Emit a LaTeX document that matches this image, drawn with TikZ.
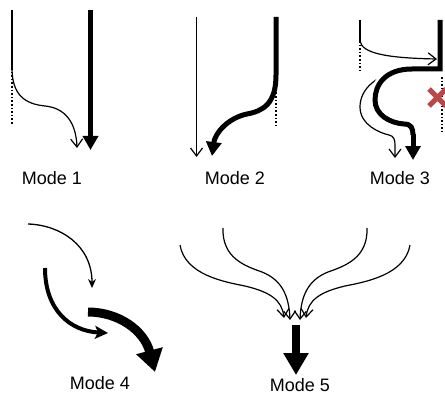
\documentclass[tikz,border=0pt]{standalone}
\usepackage{fontspec}
\setmainfont{Liberation Sans}
\usetikzlibrary{arrows.meta}
\definecolor{crossred}{RGB}{185,72,72}
\tikzset{
  thinline/.style={line width=1.2pt},
  thinarrow/.style={line width=1.2pt,-{Straight Barb[length=8pt,width=12pt,line width=1.2pt]}},
  thickarrow/.style={line width=5pt,-{Triangle[length=14pt,width=15pt]}},
  guide/.style={line width=1.6pt,dotted},
  modelabel/.style={font=\fontsize{18}{20}\selectfont,inner sep=0pt}
}
\begin{document}
\begin{tikzpicture}[x=1pt,y=-1pt]
\useasboundingbox (0,0) rectangle (445,396);

% Mode 1
\draw[thinline] (12,10) -- (12,68);
\draw[guide] (12,68) -- (12,125);
\draw[thinarrow] (12,68) .. controls (12,95) and (25,104) .. (45,106)
  .. controls (65,108) and (76,122) .. (77,148);
\draw[thickarrow] (90.5,10) -- (90.5,150);
\node[modelabel] (m1) at (52,178) {Mode 1};

% Mode 2
\draw[thinarrow] (196.5,17) -- (196.5,157);
\draw[guide] (276,78) -- (276,127);
\draw[thickarrow] (276,17) -- (276,75) .. controls (276,104) and (263,111) .. (247,114)
  .. controls (228,118) and (215,133) .. (212,156);
\node[modelabel] (m2) at (235,178) {Mode 2};

% Mode 3
\draw[thinline] (360,20) -- (360,41);
\draw[guide] (360,41) -- (360,72);
\draw[thinarrow] (360,41) .. controls (362,53) and (385,58) .. (437,59);
\draw[guide] (442,77) -- (442,132);
\draw[thinarrow] (412,70) .. controls (375,72) and (360,90) .. (360,107)
  .. controls (360,125) and (380,133) .. (389,135)
  .. controls (394,136) and (395,140) .. (395,145) -- (395,158);
\draw[white,line width=10pt] (408,69) .. controls (385,69) and (375,85) .. (375,100)
  .. controls (375,115) and (390,123) .. (404,124);
\draw[line width=5pt,line join=miter] (440,20) -- (440,69) -- (412,69)
  .. controls (385,69) and (375,85) .. (375,100)
  .. controls (375,115) and (390,123) .. (404,124)
  .. controls (411,124) and (413,128) .. (413,135);
\draw[thickarrow] (413,134) -- (413,160);
\draw[crossred,line width=5pt] (429,89) -- (446,106) (429,106) -- (446,89);
\node[modelabel] (m3) at (400,178) {Mode 3};

% Mode 4
\draw[line width=1.3pt,-{Stealth[length=9pt,width=8pt]}] (28,224) .. controls (60,225) and (92,245) .. (92,288);
\draw[line width=4pt,-{Stealth[length=13pt,width=13pt,inset=3pt]}] (45,268) .. controls (45,310) and (70,331) .. (108,333);
\draw[line width=9pt,-{Triangle[length=22pt,width=26pt]}] (88,312) .. controls (118,312) and (144,330) .. (155,372);
\node[modelabel] (m4) at (100,383) {Mode 4};

% Mode 5
\draw[thinarrow] (180,245) .. controls (185,275) and (225,282) .. (245,286)
  .. controls (270,292) and (282,300) .. (284,318);
\draw[thinarrow] (223,228) .. controls (222,258) and (245,266) .. (262,272)
  .. controls (282,280) and (289,296) .. (290,320);
\draw[thinarrow] (367,228) .. controls (368,258) and (345,266) .. (328,272)
  .. controls (308,280) and (301,296) .. (300,320);
\draw[thinarrow] (410,245) .. controls (405,275) and (365,282) .. (345,286)
  .. controls (320,292) and (308,300) .. (306,318);
\draw[line width=8pt,-{Triangle[length=22pt,width=24pt]}] (296,325) -- (296,375);
\node[modelabel] (m5) at (300,385) {Mode 5};
\end{tikzpicture}
\end{document}
